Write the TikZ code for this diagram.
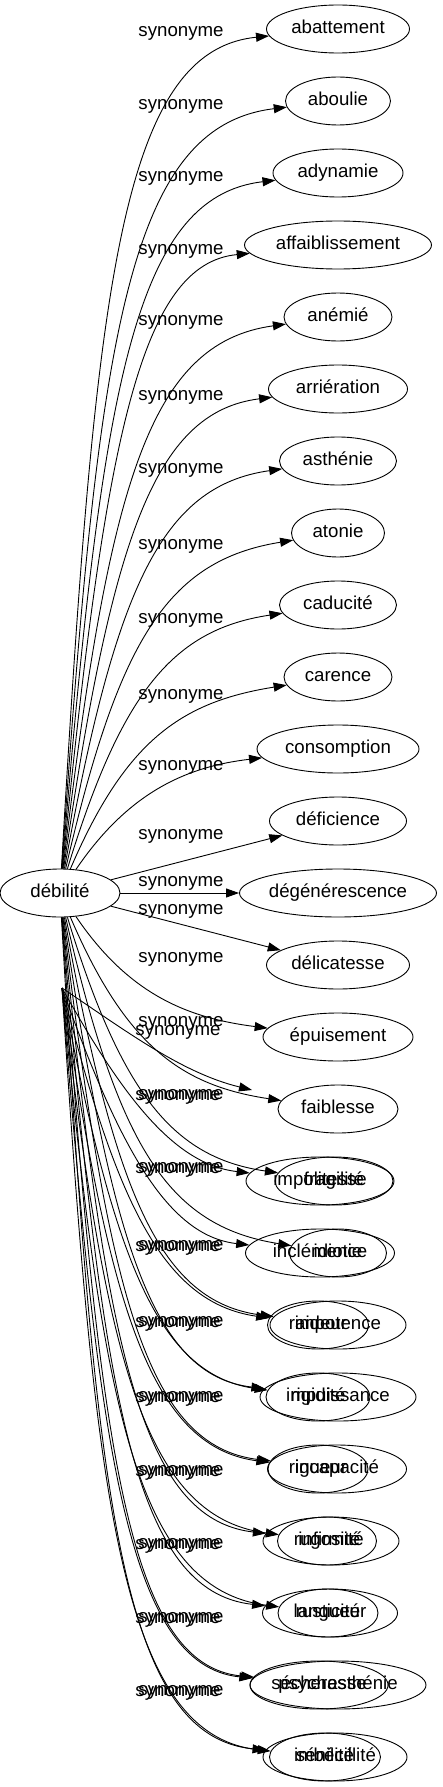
\documentclass[tikz,border=0pt]{standalone}
\usepackage{fontspec}
\setmainfont{Liberation Sans}
\usetikzlibrary{arrows.meta,shapes.geometric}
\begin{document}
\begin{tikzpicture}[x=1pt,y=-1pt,
  syn/.style={draw,ellipse,line width=0.9pt,minimum height=48pt,inner sep=0pt,text height=13.5pt,text depth=4pt,font=\fontsize{18.67}{22}\selectfont},
  lab/.style={inner sep=0pt,text height=13.5pt,text depth=4pt,font=\fontsize{18.67}{22}\selectfont},
  edge/.style={line width=0.9pt,-{Triangle[length=13pt,width=9pt]}}]
\useasboundingbox (0,0) rectangle (442,1787);
\node[syn,minimum width=120] (deb) at (60,893) {débilité};
% graph A
\foreach \i/\ty/\cx/\w/\txt/\ly in {
  1/29/338/143/abattement/32,
  2/101/338/105/aboulie/105,
  3/173/338/130/adynamie/177,
  4/245/338/187/affaiblissement/250,
  5/317/338/108/anémié/321,
  6/389/338/139/arriération/396,
  7/461/338/117/asthénie/469,
  8/533/338/93/atonie/545,
  9/605/338/117/caducité/619,
  10/677/338/108/carence/695,
  11/749/338/162/consomption/766,
  15/1037/338/150/épuisement/958,
  16/1109/338/120/faiblesse/1022,
  17/1181/334/118/fragilité/1095,
  18/1253/338/97/idiotie/1168,
  19/1325/338/136/impotence/1246,
  20/1397/338/156/impuissance/1322,
  21/1469/337/139/incapacité/1397,
  22/1541/331/136/infirmité/1471,
  23/1613/330/135/langueur/1544,
  24/1685/338/176/psychasthénie/1618,
  25/1757/335/144/imbécillité/1691}{
  \node[syn,minimum width=\w] (a\i) at (\cx,\ty) {\txt};
  \node[lab] (la\i) at (181,\ly) {synonyme};
  \pgfmathsetmacro\f{abs(\ty-893)/864}
  \pgfmathsetmacro\cax{95+40*(1-\f)}
  \pgfmathsetmacro\cay{893+0.7*(\ty-893)}
  \pgfmathsetmacro\cbx{120+80*(1-\f)}
  \pgfmathsetmacro\cby{\ty-sign(\ty-893)*(0.15+0.12*(1-\f))*(\cx-\w/2-\cbx)}
  \draw[edge] (deb) .. controls (\cax,\cay) and (\cbx,\cby) .. (a\i);
}
% straight middle rows
\node[syn,minimum width=137] (a12) at (338,821) {déficience};
\node[syn,minimum width=197] (a13) at (338,893) {dégénérescence};
\node[syn,minimum width=143] (a14) at (338,965) {délicatesse};
\node[lab] (la12) at (181,835) {synonyme};
\node[lab] (la13) at (181,882) {synonyme};
\node[lab] (la14) at (181,910) {synonyme};
\draw[edge] (deb) -- (a12);
\draw[edge] (deb) -- (a13);
\draw[edge] (deb) -- (a14);
% graph B (overlaid)
\coordinate (bsrc) at (62,988);
\coordinate (bph) at (252,1090);
\node[lab] (lb16) at (178,1031) {synonyme};
\pgfmathsetmacro\f{abs(1090-893)/864}
\pgfmathsetmacro\cax{95+40*(1-\f)}
\pgfmathsetmacro\cay{893+0.7*(1090-893)}
\pgfmathsetmacro\cbx{120+80*(1-\f)}
\pgfmathsetmacro\cby{1090-(0.15+0.12*(1-\f))*(252-\cbx)}
\draw[edge] (bsrc) .. controls (\cax,\cay) and (\cbx,\cby) .. (bph);
\foreach \i/\ty/\cx/\w/\txt/\ly in {
  17/1181/320/148/impolitesse/1095,
  18/1253/320/149/inclémence/1168,
  19/1325/318/101/raideur/1246,
  20/1397/318/104/rigidité/1322,
  21/1469/318/100/rigueur/1397,
  22/1541/327/99/rugosité/1471,
  23/1613/328/100/rusticité/1544,
  24/1685/319/138/sécheresse/1618,
  25/1757/325/111/sénilité/1691}{
  \node[syn,minimum width=\w] (b\i) at (\cx,\ty) {\txt};
  \node[lab] (lb\i) at (178,\ly+1) {synonyme};
  \pgfmathsetmacro\f{abs(\ty-893)/864}
  \pgfmathsetmacro\cax{95+40*(1-\f)}
  \pgfmathsetmacro\cay{893+0.7*(\ty-893)}
  \pgfmathsetmacro\cbx{120+80*(1-\f)}
  \pgfmathsetmacro\cby{\ty-sign(\ty-893)*(0.15+0.12*(1-\f))*(\cx-\w/2-\cbx)}
  \draw[edge] (bsrc) .. controls (\cax,\cay) and (\cbx,\cby) .. (b\i);
}
\end{tikzpicture}
\end{document}
